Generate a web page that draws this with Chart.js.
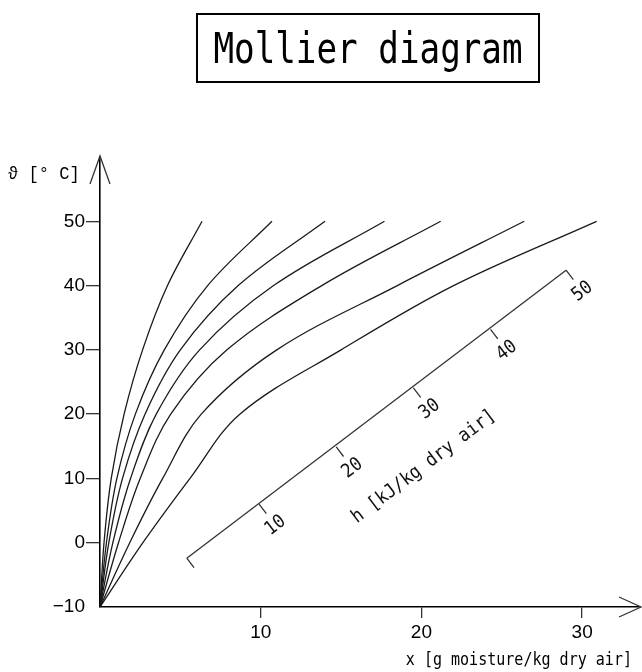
<!DOCTYPE html>
<html><head><meta charset="utf-8">
<script src="https://cdn.jsdelivr.net/npm/chart.js@4"></script>
<style>html,body{margin:0;padding:0;background:#fff}#wrap{width:642px;height:672px;position:relative}</style>
</head><body><div id="wrap"><canvas id="c" width="642" height="672"></canvas></div>
<script>
// ---- data ----
const titleText = "Mollier diagram";
const xTitle = "x [g moisture/kg dry air]";
const yTitle = "ϑ [° C]";
const hTitle = "h [kJ/kg dry air]";
const thetaLevels = [-10, 0, 10, 20, 30, 40, 50];
const curve1 = [0, 0.25, 0.7, 1.5, 2.65, 4.2, 6.35];
const curve2 = [0, 0.4, 1.05, 2.2, 4.0, 6.7, 10.7];
const curve3 = [0, 0.55, 1.4, 2.8, 5.0, 8.6, 14.0];
const curve4 = [0, 0.8, 1.9, 3.5, 6.2, 10.8, 17.7];
const curve5 = [0, 1.15, 2.5, 4.4, 7.9, 13.8, 21.2];
const curve6 = [0, 1.85, 3.9, 6.3, 11.0, 18.5, 26.4];
const curve7 = [0, 2.67, 5.6, 8.7, 15.0, 22.0, 30.9];
const curves = [curve1, curve2, curve3, curve4, curve5, curve6, curve7];
const xTicks = [10, 20, 30];
const yTicks = [-10, 0, 10, 20, 30, 40, 50];
// h (enthalpy) scale drawn obliquely inside the plot
const hTicks = [10, 20, 30, 40, 50];
const hTickX = [9.9, 14.7, 19.5, 24.3, 29.0];
const hTickTheta = [6.0, 14.9, 24.1, 33.2, 42.4];
const hAxisStartX = 5.4;
const hAxisStartTheta = -2.4;
const hTitleAt = 26; // h value under which the h title sits

const datasets = curves.map(c => ({
  data: c.map((x, i) => ({x: x, y: thetaLevels[i]})),
  showLine: true, borderColor: '#1a1a1a', borderWidth: 1.3, pointRadius: 0,
  tension: 0.35, fill: false
}));
datasets.push({
  data: [{x: hAxisStartX, y: hAxisStartTheta}, {x: hTickX[hTickX.length-1], y: hTickTheta[hTickTheta.length-1]}],
  showLine: true, borderColor: '#333', borderWidth: 1.3, pointRadius: 0, tension: 0
});

function monoText(ctx, text, x, y, size, align, sx) {
  ctx.save();
  ctx.font = size + 'px "DejaVu Sans Mono"';
  ctx.translate(x, y);
  ctx.scale(sx, 1);
  ctx.textAlign = align;
  ctx.fillText(text, 0, 0);
  ctx.restore();
}

const deco = {
  id: 'deco',
  afterDraw(chart) {
    const ctx = chart.ctx, xs = chart.scales.x, ys = chart.scales.y, a = chart.chartArea;
    ctx.save();
    ctx.fillStyle = '#000'; ctx.lineWidth = 1.3;
    // axis arrows
    ctx.beginPath();
    ctx.moveTo(a.left - 10, a.top + 27); ctx.lineTo(a.left, a.top - 1); ctx.lineTo(a.left + 10, a.top + 27);
    ctx.moveTo(a.right - 21, a.bottom - 10); ctx.lineTo(a.right + 1, a.bottom); ctx.lineTo(a.right - 21, a.bottom + 10);
    ctx.strokeStyle = '#333';
    ctx.stroke();
    // title box
    ctx.lineWidth = 2; ctx.strokeStyle = '#000';
    ctx.strokeRect(197, 14, 342, 68);
    ctx.textBaseline = 'alphabetic';
    monoText(ctx, titleText, 368, 63, 42, 'center', 0.815);
    // axis titles
    monoText(ctx, xTitle, a.right - 8, 665, 18, 'right', 0.835);
    ctx.save();
    ctx.font = '18px "Liberation Mono"';
    ctx.translate(8, 174);
    ctx.scale(0.95, 1);
    ctx.textAlign = 'left'; ctx.textBaseline = 'middle';
    ctx.fillText(yTitle, 0, 0);
    ctx.restore();
    // oblique h scale
    const px = (x) => xs.getPixelForValue(x), py = (t) => ys.getPixelForValue(t);
    const p0 = {x: px(hAxisStartX), y: py(hAxisStartTheta)};
    const pts = hTicks.map((h, i) => ({x: px(hTickX[i]), y: py(hTickTheta[i])}));
    const pe = pts[pts.length - 1];
    const L = Math.hypot(pe.x - p0.x, pe.y - p0.y);
    const u = {x: (pe.x - p0.x) / L, y: (pe.y - p0.y) / L};
    const n = {x: -u.y, y: u.x};
    const ang = Math.atan2(u.y, u.x);
    ctx.strokeStyle = '#333'; ctx.lineWidth = 1.3;
    ctx.beginPath();
    [p0].concat(pts).forEach(p => { ctx.moveTo(p.x, p.y); ctx.lineTo(p.x + n.x * 12, p.y + n.y * 12); });
    ctx.stroke();
    ctx.fillStyle = '#111';
    pts.forEach((p, i) => {
      ctx.save();
      ctx.translate(p.x + n.x * 27, p.y + n.y * 27);
      ctx.rotate(ang);
      ctx.scale(0.9, 1);
      ctx.font = '19px "DejaVu Sans Mono"';
      ctx.textAlign = 'center'; ctx.textBaseline = 'middle';
      ctx.fillText(String(hTicks[i]), 0, 0);
      ctx.restore();
    });
    // h title
    const step = (pts[1].x - pts[0].x);
    const stepY = (pts[1].y - pts[0].y);
    const k = (hTitleAt - hTicks[0]) / (hTicks[1] - hTicks[0]);
    const tp = {x: pts[0].x + step * k, y: pts[0].y + stepY * k};
    ctx.save();
    ctx.translate(tp.x + n.x * 68, tp.y + n.y * 68);
    ctx.rotate(ang);
    ctx.scale(0.9, 1);
    ctx.font = '19px "DejaVu Sans Mono"';
    ctx.textAlign = 'center'; ctx.textBaseline = 'middle';
    ctx.fillText(hTitle, 0, 0);
    ctx.restore();
    ctx.restore();
  }
};

new Chart(document.getElementById('c'), {
  type: 'scatter',
  data: {datasets: datasets},
  options: {
    responsive: false, animation: false, devicePixelRatio: 1,
    layout: {padding: {top: 157, right: 2, left: 0, bottom: 0}},
    plugins: {legend: {display: false}, tooltip: {enabled: false}, title: {display: false}},
    scales: {
      x: {
        type: 'linear', min: 0, max: 33.6,
        afterBuildTicks: s => { s.ticks = xTicks.map(v => ({value: v})); },
        afterFit: s => { s.height = 65; },
        grid: {drawOnChartArea: false, drawTicks: true, tickLength: 11, color: '#333', lineWidth: 1.3},
        border: {display: true, color: '#000', width: 1.6},
        ticks: {font: {family: 'Liberation Sans', size: 19}, color: '#000', padding: 3, maxRotation: 0}
      },
      y: {
        type: 'linear', min: -10, max: 60,
        afterBuildTicks: s => { s.ticks = yTicks.map(v => ({value: v})); },
        afterFit: s => { s.width = 100; },
        grid: {drawOnChartArea: false, drawTicks: true, tickLength: 14,
               color: c => (c.tick && c.tick.value === -10) ? 'rgba(0,0,0,0)' : '#333', lineWidth: 1.3},
        border: {display: true, color: '#000', width: 1.6},
        ticks: {font: {family: 'Liberation Sans', size: 19}, color: '#000', padding: 1,
                callback: v => String(v).replace('-', '\u2212')}
      }
    }
  },
  plugins: [deco]
});
</script>
</body></html>
